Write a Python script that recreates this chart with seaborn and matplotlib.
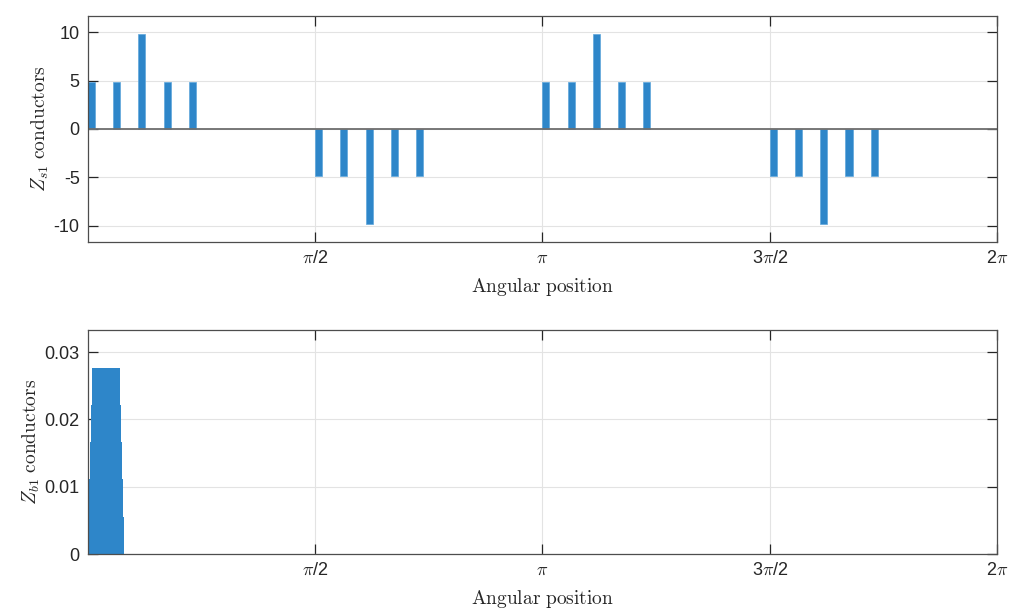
import numpy as np
import matplotlib
matplotlib.use("Agg")
import matplotlib.pyplot as plt
import seaborn as sns

# Stator phase-1 conductor counts per slot (36 slots over one revolution)
stator_slots = [0, 1, 2, 3, 4, 9, 10, 11, 12, 13, 18, 19, 20, 21, 22, 27, 28, 29, 30, 31]
stator_counts = [4.9, 4.9, 9.8, 4.9, 4.9,
                 -4.9, -4.9, -9.8, -4.9, -4.9,
                 4.9, 4.9, 9.8, 4.9, 4.9,
                 -4.9, -4.9, -9.8, -4.9, -4.9]
n_stator_slots = 36

# Rotor bar-1 conductor distribution over the first few fine steps
rotor_counts = [0.0055, 0.0111, 0.0166, 0.0222] + [0.0277] * 22 + [0.0222, 0.0166, 0.0111, 0.0055]
rotor_step = 0.0068

tick_pos = [np.pi / 2, np.pi, 3 * np.pi / 2, 2 * np.pi]
tick_labels = [r"$\pi$/2", r"$\pi$", r"3$\pi$/2", r"2$\pi$"]

sns.set_theme(style="whitegrid")
plt.rcParams.update({
    "font.family": ["Liberation Sans", "DejaVu Sans"],
    "mathtext.fontset": "cm",
    "axes.unicode_minus": False,
    "axes.edgecolor": "#4d4d4d",
    "axes.linewidth": 0.9,
    "grid.color": "#e3e3e3",
    "grid.linewidth": 0.8,
    "xtick.color": "#262626",
    "ytick.color": "#262626",
})

bar_color = "#2e86c9"
edge_color = "#5ea6db"
bar_width = 0.0484

fig = plt.figure(figsize=(10.16, 6.08), dpi=100)
ax1 = fig.add_axes([0.0866, 0.602, 0.8947, 0.3717])
ax2 = fig.add_axes([0.0866, 0.0888, 0.8947, 0.3684])

stator_x = np.array(stator_slots) * 2 * np.pi / n_stator_slots
ax1.bar(stator_x, stator_counts, width=bar_width, align="edge",
        color=bar_color, edgecolor=edge_color, linewidth=0.5, zorder=3)
ax1.axhline(0, color="#6e6e6e", linewidth=1.3, zorder=4)
ax1.set_ylim(-11.7, 11.7)
ax1.set_yticks([-10, -5, 0, 5, 10])
ax1.set_ylabel(r"$Z_{s1}\ \mathrm{conductors}$", fontsize=14, labelpad=2)

rotor_x = np.arange(len(rotor_counts)) * rotor_step
ax2.bar(rotor_x, rotor_counts, width=bar_width, align="edge",
        color=bar_color, edgecolor="none", linewidth=0, zorder=3)
ax2.set_ylim(0, 0.0333)
ax2.set_yticks([0, 0.01, 0.02, 0.03])
ax2.set_yticklabels(["0", "0.01", "0.02", "0.03"])
ax2.set_ylabel(r"$Z_{b1}\ \mathrm{conductors}$", fontsize=14, labelpad=2)

for ax in (ax1, ax2):
    ax.set_xlim(0, 2 * np.pi)
    ax.set_xticks(tick_pos)
    ax.set_xticklabels(tick_labels)
    ax.set_xlabel(r"$\mathrm{Angular\ position}$", fontsize=14, labelpad=6)
    ax.tick_params(direction="in", length=7, width=0.9, labelsize=13,
                   top=True, right=True, bottom=True, left=True,
                   color="#262626", pad=6)
    ax.grid(True, zorder=0)
    ax.set_axisbelow(True)
    for s in ax.spines.values():
        s.set_zorder(5)

fig.savefig("out.png", dpi=100)
